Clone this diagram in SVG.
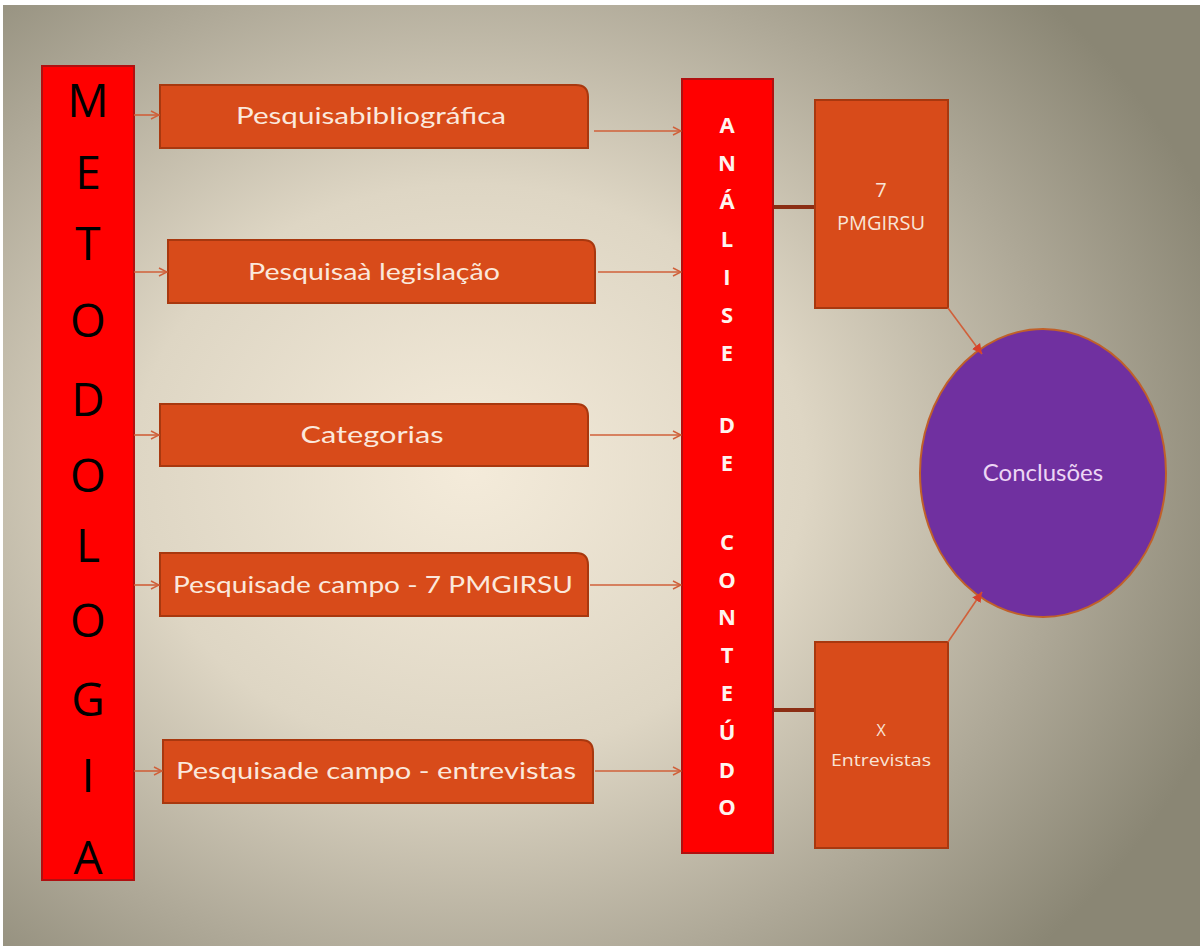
<svg xmlns="http://www.w3.org/2000/svg" width="1200" height="946" viewBox="0 0 1200 946">
<defs>
<radialGradient id="bg" gradientUnits="userSpaceOnUse" cx="470" cy="470" r="800" gradientTransform="translate(470 470) scale(1 0.85) translate(-470 -470)">
<stop offset="0" stop-color="#f4ebda"/>
<stop offset="0.42" stop-color="#ded6c4"/>
<stop offset="0.75" stop-color="#aea897"/>
<stop offset="1" stop-color="#8a8674"/>
</radialGradient>
<marker id="ar" markerWidth="10" markerHeight="10" refX="9" refY="5" orient="auto" markerUnits="userSpaceOnUse">
<path d="M1,1 L9,5 L1,9" fill="none" stroke="#d0603a" stroke-width="1.5"/>
</marker>
<marker id="ar2" markerWidth="12" markerHeight="12" refX="10" refY="6" orient="auto" markerUnits="userSpaceOnUse">
<path d="M0,1 L10,6 L0,11 Z" fill="#d8402a"/>
</marker>
<style>
.box{fill:#d84b1a;stroke:#a8380f;stroke-width:2}
.bt{font-family:Lato,"Open Sans",sans-serif;font-size:24px;fill:#fbe8dc;text-anchor:middle}
.big{font-family:"Open Sans","Liberation Sans",sans-serif;font-size:46px;fill:#000;text-anchor:middle}
.vt{font-family:"Open Sans","Liberation Sans",sans-serif;font-weight:bold;font-size:22px;fill:#fff3ee;text-anchor:middle}
.st{font-family:"Open Sans","Liberation Sans",sans-serif;font-size:20px;fill:#f8e4d6;text-anchor:middle}
.ln{stroke:#d0603a;stroke-width:1.6;fill:none}
</style>
</defs>
<rect x="0" y="0" width="1200" height="946" fill="#fff"/>
<rect x="3" y="5" width="1197" height="941" fill="url(#bg)"/>

<g id="metodologia">
<rect x="42" y="66" width="92" height="814" fill="#ff0000" stroke="#b01010" stroke-width="2"/>
<text class="big" x="88" y="117">M</text>
<text class="big" x="88" y="189">E</text>
<text class="big" x="88" y="260">T</text>
<text class="big" x="88" y="337">O</text>
<text class="big" x="88" y="416">D</text>
<text class="big" x="88" y="492">O</text>
<text class="big" x="88" y="562">L</text>
<text class="big" x="88" y="637">O</text>
<text class="big" x="88" y="716">G</text>
<text class="big" x="88" y="792">I</text>
<text class="big" x="88" y="874">A</text>
</g>

<g id="b1">
<path class="box" d="M160,85 H576 Q588,85 588,97 V148 H160 Z"/>
<text class="bt" x="371" y="124" textLength="270" lengthAdjust="spacingAndGlyphs">Pesquisabibliográfica</text>
</g>
<g id="b2">
<path class="box" d="M168,240 H583 Q595,240 595,252 V303 H168 Z"/>
<text class="bt" x="374" y="280" textLength="252" lengthAdjust="spacingAndGlyphs">Pesquisaà legislação</text>
</g>
<g id="b3">
<path class="box" d="M160,404 H576 Q588,404 588,416 V466 H160 Z"/>
<text class="bt" x="372" y="443" textLength="143" lengthAdjust="spacingAndGlyphs">Categorias</text>
</g>
<g id="b4">
<path class="box" d="M160,553 H576 Q588,553 588,565 V616 H160 Z"/>
<text class="bt" x="373" y="593" textLength="400" lengthAdjust="spacingAndGlyphs">Pesquisade campo - 7 PMGIRSU</text>
</g>
<g id="b5">
<path class="box" d="M163,740 H581 Q593,740 593,752 V803 H163 Z"/>
<text class="bt" x="376" y="779" textLength="400" lengthAdjust="spacingAndGlyphs">Pesquisade campo - entrevistas</text>
</g>

<g id="analise">
<rect x="682" y="79" width="91" height="774" fill="#ff0000" stroke="#b01010" stroke-width="2"/>
<text class="vt" x="727" y="133">A</text>
<text class="vt" x="727" y="171">N</text>
<text class="vt" x="727" y="209">Á</text>
<text class="vt" x="727" y="247">L</text>
<text class="vt" x="727" y="285">I</text>
<text class="vt" x="727" y="323">S</text>
<text class="vt" x="727" y="361">E</text>
<text class="vt" x="727" y="433">D</text>
<text class="vt" x="727" y="471">E</text>
<text class="vt" x="727" y="550">C</text>
<text class="vt" x="727" y="588">O</text>
<text class="vt" x="727" y="625">N</text>
<text class="vt" x="727" y="663">T</text>
<text class="vt" x="727" y="701">E</text>
<text class="vt" x="727" y="740">Ú</text>
<text class="vt" x="727" y="778">D</text>
<text class="vt" x="727" y="815">O</text>
</g>

<g id="pmgirsu">
<rect class="box" x="815" y="100" width="133" height="208"/>
<text class="st" x="881" y="197">7</text>
<text class="st" x="881" y="230">PMGIRSU</text>
</g>

<g id="entrevistas">
<rect class="box" x="815" y="642" width="133" height="206"/>
<text class="st" x="881" y="736" style="font-size:16px">X</text>
<text class="st" x="881" y="766" style="font-size:16px" textLength="100" lengthAdjust="spacingAndGlyphs">Entrevistas</text>
</g>

<g id="conclusoes">
<ellipse cx="1043" cy="473" rx="123" ry="144" fill="#7030a0" stroke="#c0602a" stroke-width="2"/>
<text x="1043" y="481" font-family="Lato,'Open Sans',sans-serif" font-size="24" fill="#ecd6f4" text-anchor="middle">Conclusões</text>
</g>

<g id="connectors">
<line class="ln" x1="134" y1="115" x2="159" y2="115" marker-end="url(#ar)"/>
<line class="ln" x1="134" y1="272" x2="167" y2="272" marker-end="url(#ar)"/>
<line class="ln" x1="134" y1="435" x2="159" y2="435" marker-end="url(#ar)"/>
<line class="ln" x1="134" y1="585" x2="159" y2="585" marker-end="url(#ar)"/>
<line class="ln" x1="134" y1="771" x2="162" y2="771" marker-end="url(#ar)"/>
<line class="ln" x1="594" y1="131" x2="681" y2="131" marker-end="url(#ar)"/>
<line class="ln" x1="598" y1="272" x2="681" y2="272" marker-end="url(#ar)"/>
<line class="ln" x1="590" y1="435" x2="681" y2="435" marker-end="url(#ar)"/>
<line class="ln" x1="590" y1="585" x2="681" y2="585" marker-end="url(#ar)"/>
<line class="ln" x1="595" y1="771" x2="681" y2="771" marker-end="url(#ar)"/>
<line x1="774" y1="207" x2="814" y2="207" stroke="#8b2e14" stroke-width="4"/>
<line x1="774" y1="710" x2="814" y2="710" stroke="#8b2e14" stroke-width="4"/>
<line class="ln" x1="948" y1="308" x2="982" y2="354" marker-end="url(#ar2)"/>
<line class="ln" x1="948" y1="642" x2="982" y2="592" marker-end="url(#ar2)"/>
</g>
</svg>
